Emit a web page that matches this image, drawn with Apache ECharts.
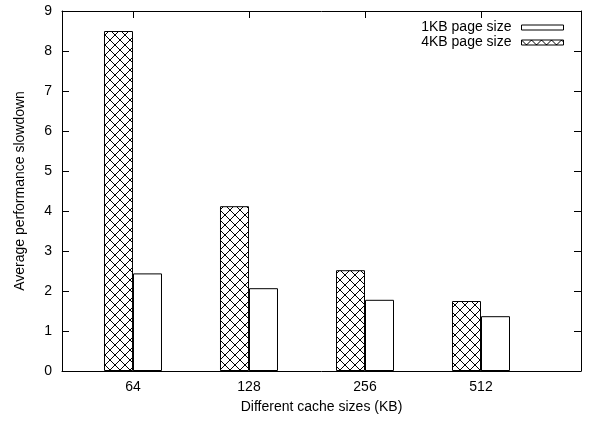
<!DOCTYPE html>
<html>
<head>
<meta charset="utf-8">
<script src="https://cdn.jsdelivr.net/npm/echarts@6/dist/echarts.min.js"></script>
<style>html,body{margin:0;padding:0;background:#fff}#c{width:589px;height:422px}</style>
</head>
<body>
<div id="c"></div>
<script>
var categories = ['64', '128', '256', '512'];
var seriesNames = ['4KB page size', '1KB page size'];
var values4KB = [8.5, 4.12, 2.52, 1.75];
var values1KB = [2.44, 2.07, 1.78, 1.37];
var yTicks = [0, 1, 2, 3, 4, 5, 6, 7, 8, 9];

var catPos = categories.map(function (c, i) { return i; });

function makeHatch() {
  var s = 10;
  var cv = document.createElement('canvas');
  cv.width = s; cv.height = s;
  var ctx = cv.getContext('2d');
  ctx.fillStyle = '#fff';
  ctx.fillRect(0, 0, s, s);
  ctx.strokeStyle = '#000';
  ctx.lineWidth = 1;
  ctx.beginPath();
  ctx.moveTo(0, 0); ctx.lineTo(s, s);
  ctx.moveTo(s, 0); ctx.lineTo(0, s);
  ctx.stroke();
  return cv;
}
var hatch = makeHatch();

var font = 'Liberation Sans, Arial, Helvetica, sans-serif';
var fs = 14;
var chart = echarts.init(document.getElementById('c'));
var xMin = -0.612, xMax = 3.862;
var tickStyle = { show: true, inside: true, length: 7, lineStyle: { color: '#000', width: 1 }, customValues: catPos };
var lineStyle = { show: true, onZero: false, lineStyle: { color: '#000', width: 1 } };
chart.setOption({
  animation: false,
  backgroundColor: '#fff',
  textStyle: { fontFamily: font },
  grid: { left: 62, right: 8, top: 11, bottom: 51, show: false, containLabel: false },
  legend: {
    data: ['1KB page size', '4KB page size'],
    orient: 'vertical',
    right: 20,
    top: 15,
    align: 'right',
    icon: 'rect',
    itemWidth: 42,
    itemHeight: 5,
    itemGap: 0,
    textStyle: { fontSize: fs, color: '#000', fontFamily: font, lineHeight: 15, padding: [0, 5, 0, 0] },
    itemStyle: { borderColor: '#000', borderWidth: 1 }
  },
  xAxis: [{
    type: 'value', min: xMin, max: xMax, position: 'bottom',
    name: 'Different cache sizes (KB)', nameLocation: 'middle', nameGap: 29,
    nameTextStyle: { fontSize: fs, color: '#000', fontFamily: font },
    axisLine: lineStyle,
    axisTick: tickStyle,
    splitLine: { show: false },
    axisLabel: { show: true, customValues: catPos, color: '#000', fontSize: fs, margin: 9, fontFamily: font,
      formatter: function (v) { return categories[Math.round(v)]; } }
  }, {
    type: 'value', min: xMin, max: xMax, position: 'top',
    axisLine: lineStyle,
    axisTick: tickStyle,
    splitLine: { show: false },
    axisLabel: { show: false }
  }],
  yAxis: [{
    type: 'value', min: 0, max: 9, interval: 1, position: 'left',
    name: 'Average performance slowdown', nameLocation: 'middle', nameGap: 35,
    nameTextStyle: { fontSize: fs, color: '#000', fontFamily: font },
    axisLine: lineStyle,
    axisTick: { show: true, inside: true, length: 7, lineStyle: { color: '#000' } },
    splitLine: { show: false },
    axisLabel: { color: '#000', fontSize: fs, margin: 10, fontFamily: font,
      formatter: function (v) { return yTicks.indexOf(v) >= 0 ? String(v) : ''; } }
  }, {
    type: 'value', min: 0, max: 9, interval: 1, position: 'right',
    axisLine: lineStyle,
    axisTick: { show: true, inside: true, length: 7, lineStyle: { color: '#000' } },
    splitLine: { show: false },
    axisLabel: { show: false }
  }],
  series: [{
    name: seriesNames[0], type: 'bar', xAxisIndex: 0, yAxisIndex: 0,
    barWidth: 29, barGap: '0%',
    itemStyle: { color: { image: hatch, repeat: 'repeat' }, borderColor: '#000', borderWidth: 1 },
    data: values4KB.map(function (v, i) { return [catPos[i], v]; })
  }, {
    name: seriesNames[1], type: 'bar', xAxisIndex: 0, yAxisIndex: 0,
    barWidth: 29, barGap: '0%',
    itemStyle: { color: '#fff', borderColor: '#000', borderWidth: 1 },
    data: values1KB.map(function (v, i) { return [catPos[i], v]; })
  }]
});
</script>
</body>
</html>
